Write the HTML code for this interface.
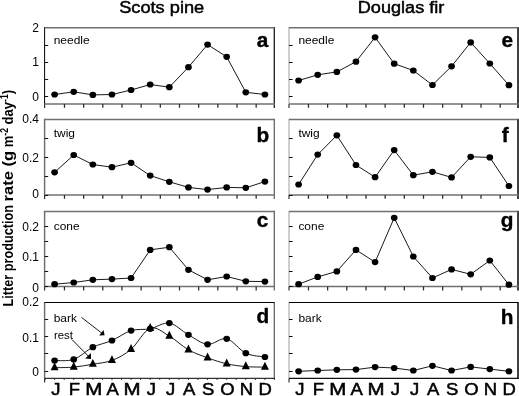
<!DOCTYPE html><html><head><meta charset="utf-8"><style>html,body{margin:0;padding:0;background:#fff;width:519px;height:396px;overflow:hidden}svg{display:block;filter:grayscale(1) blur(0.3px)}text{font-family:"Liberation Sans", sans-serif}</style></head><body>
<svg width="519" height="396" viewBox="0 0 519 396">
<rect width="519" height="396" fill="#fff"/>
<text x="119.2" y="12.6" font-size="15.8" stroke="#000" stroke-width="0.45" textLength="85" lengthAdjust="spacingAndGlyphs" fill="#000">Scots pine</text>
<text x="357.8" y="12.6" font-size="15.8" stroke="#000" stroke-width="0.45" textLength="86.5" lengthAdjust="spacingAndGlyphs" fill="#000">Douglas fir</text>
<text transform="translate(12.8,306.40) rotate(-90)" font-size="15.2" font-weight="bold" textLength="101.40" lengthAdjust="spacingAndGlyphs" fill="#000">Litter production</text>
<text transform="translate(12.8,201.40) rotate(-90)" font-size="15.2" font-weight="bold" textLength="50.60" lengthAdjust="spacingAndGlyphs" fill="#000">rate (g</text>
<text transform="translate(12.8,147.20) rotate(-90)" font-size="15.2" font-weight="bold" textLength="57.20" lengthAdjust="spacingAndGlyphs" fill="#000">m<tspan dy="-5" font-size="10">-2</tspan><tspan dy="5"> day</tspan><tspan dy="-5" font-size="10">-1</tspan><tspan dy="5">)</tspan></text>
<line x1="44.60" y1="26.95" x2="44.60" y2="104.00" stroke="#000" stroke-width="1.00"/>
<line x1="44.60" y1="104.00" x2="44.60" y2="108.00" stroke="#333" stroke-width="1.20"/>
<line x1="274.30" y1="26.95" x2="274.30" y2="108.00" stroke="#2a2a2a" stroke-width="1.40"/>
<line x1="44.60" y1="27.70" x2="274.30" y2="27.70" stroke="#707070" stroke-width="1.50"/>
<line x1="44.60" y1="104.00" x2="275.00" y2="104.00" stroke="#707070" stroke-width="1.50"/>
<line x1="44.60" y1="45.50" x2="48.20" y2="45.50" stroke="#111" stroke-width="1"/>
<line x1="44.60" y1="62.50" x2="48.20" y2="62.50" stroke="#111" stroke-width="1"/>
<line x1="44.60" y1="79.50" x2="48.20" y2="79.50" stroke="#111" stroke-width="1"/>
<line x1="44.60" y1="96.50" x2="48.20" y2="96.50" stroke="#111" stroke-width="1"/>
<line x1="64.47" y1="104.00" x2="64.47" y2="107.80" stroke="#2a2a2a" stroke-width="1.25"/>
<line x1="83.64" y1="104.00" x2="83.64" y2="107.80" stroke="#2a2a2a" stroke-width="1.25"/>
<line x1="102.81" y1="104.00" x2="102.81" y2="107.80" stroke="#2a2a2a" stroke-width="1.25"/>
<line x1="121.98" y1="104.00" x2="121.98" y2="107.80" stroke="#2a2a2a" stroke-width="1.25"/>
<line x1="141.15" y1="104.00" x2="141.15" y2="107.80" stroke="#2a2a2a" stroke-width="1.25"/>
<line x1="160.32" y1="104.00" x2="160.32" y2="107.80" stroke="#2a2a2a" stroke-width="1.25"/>
<line x1="179.49" y1="104.00" x2="179.49" y2="107.80" stroke="#2a2a2a" stroke-width="1.25"/>
<line x1="198.66" y1="104.00" x2="198.66" y2="107.80" stroke="#2a2a2a" stroke-width="1.25"/>
<line x1="217.83" y1="104.00" x2="217.83" y2="107.80" stroke="#2a2a2a" stroke-width="1.25"/>
<line x1="237.00" y1="104.00" x2="237.00" y2="107.80" stroke="#2a2a2a" stroke-width="1.25"/>
<line x1="256.17" y1="104.00" x2="256.17" y2="107.80" stroke="#2a2a2a" stroke-width="1.25"/>
<text x="38.9" y="28.30" font-size="12" text-anchor="end" dominant-baseline="central" fill="#000">2</text>
<text x="38.9" y="62.40" font-size="12" text-anchor="end" dominant-baseline="central" fill="#000">1</text>
<text x="38.9" y="96.70" font-size="12" text-anchor="end" dominant-baseline="central" fill="#000">0</text>
<text transform="translate(268.30,46.80) scale(1.05,1)" font-size="19.8" font-weight="bold" stroke="#000" stroke-width="0.35" text-anchor="end" fill="#000">a</text>
<text transform="translate(53.70,44.40) scale(1.04,1)" font-size="11.5" fill="#000">needle</text>
<polyline points="54.60,94.50 73.72,91.80 92.84,94.90 111.96,94.50 131.08,90.00 150.20,84.50 169.32,87.20 188.44,67.20 207.56,44.60 226.68,56.80 245.80,92.30 264.92,94.50" fill="none" stroke="#000" stroke-width="0.90"/>
<ellipse cx="54.60" cy="94.50" rx="3.35" ry="3.1" fill="#000"/>
<ellipse cx="73.72" cy="91.80" rx="3.35" ry="3.1" fill="#000"/>
<ellipse cx="92.84" cy="94.90" rx="3.35" ry="3.1" fill="#000"/>
<ellipse cx="111.96" cy="94.50" rx="3.35" ry="3.1" fill="#000"/>
<ellipse cx="131.08" cy="90.00" rx="3.35" ry="3.1" fill="#000"/>
<ellipse cx="150.20" cy="84.50" rx="3.35" ry="3.1" fill="#000"/>
<ellipse cx="169.32" cy="87.20" rx="3.35" ry="3.1" fill="#000"/>
<ellipse cx="188.44" cy="67.20" rx="3.35" ry="3.1" fill="#000"/>
<ellipse cx="207.56" cy="44.60" rx="3.35" ry="3.1" fill="#000"/>
<ellipse cx="226.68" cy="56.80" rx="3.35" ry="3.1" fill="#000"/>
<ellipse cx="245.80" cy="92.30" rx="3.35" ry="3.1" fill="#000"/>
<ellipse cx="264.92" cy="94.50" rx="3.35" ry="3.1" fill="#000"/>
<line x1="44.60" y1="118.75" x2="44.60" y2="195.00" stroke="#707070" stroke-width="1.50"/>
<line x1="44.60" y1="195.00" x2="44.60" y2="199.00" stroke="#333" stroke-width="1.20"/>
<line x1="274.30" y1="118.75" x2="274.30" y2="199.00" stroke="#666" stroke-width="1.30"/>
<line x1="44.60" y1="119.50" x2="274.30" y2="119.50" stroke="#707070" stroke-width="1.50"/>
<line x1="44.60" y1="195.00" x2="274.95" y2="195.00" stroke="#707070" stroke-width="1.50"/>
<line x1="44.60" y1="138.50" x2="48.20" y2="138.50" stroke="#111" stroke-width="1"/>
<line x1="44.60" y1="157.50" x2="48.20" y2="157.50" stroke="#111" stroke-width="1"/>
<line x1="44.60" y1="176.50" x2="48.20" y2="176.50" stroke="#111" stroke-width="1"/>
<line x1="44.60" y1="195.50" x2="48.20" y2="195.50" stroke="#111" stroke-width="1"/>
<line x1="64.47" y1="195.00" x2="64.47" y2="198.80" stroke="#2a2a2a" stroke-width="1.25"/>
<line x1="83.64" y1="195.00" x2="83.64" y2="198.80" stroke="#2a2a2a" stroke-width="1.25"/>
<line x1="102.81" y1="195.00" x2="102.81" y2="198.80" stroke="#2a2a2a" stroke-width="1.25"/>
<line x1="121.98" y1="195.00" x2="121.98" y2="198.80" stroke="#2a2a2a" stroke-width="1.25"/>
<line x1="141.15" y1="195.00" x2="141.15" y2="198.80" stroke="#2a2a2a" stroke-width="1.25"/>
<line x1="160.32" y1="195.00" x2="160.32" y2="198.80" stroke="#2a2a2a" stroke-width="1.25"/>
<line x1="179.49" y1="195.00" x2="179.49" y2="198.80" stroke="#2a2a2a" stroke-width="1.25"/>
<line x1="198.66" y1="195.00" x2="198.66" y2="198.80" stroke="#2a2a2a" stroke-width="1.25"/>
<line x1="217.83" y1="195.00" x2="217.83" y2="198.80" stroke="#2a2a2a" stroke-width="1.25"/>
<line x1="237.00" y1="195.00" x2="237.00" y2="198.80" stroke="#2a2a2a" stroke-width="1.25"/>
<line x1="256.17" y1="195.00" x2="256.17" y2="198.80" stroke="#2a2a2a" stroke-width="1.25"/>
<text x="38.9" y="119.40" font-size="12" text-anchor="end" dominant-baseline="central" fill="#000">0.4</text>
<text x="38.9" y="158.10" font-size="12" text-anchor="end" dominant-baseline="central" fill="#000">0.2</text>
<text x="38.9" y="194.40" font-size="12" text-anchor="end" dominant-baseline="central" fill="#000">0</text>
<text transform="translate(269.30,142.05) scale(1.05,1)" font-size="19.8" font-weight="bold" stroke="#000" stroke-width="0.35" text-anchor="end" fill="#000">b</text>
<text transform="translate(53.70,136.80) scale(1.04,1)" font-size="11.5" fill="#000">twig</text>
<polyline points="54.60,172.30 73.72,155.00 92.84,164.50 111.96,167.20 131.08,162.80 150.20,175.60 169.32,181.80 188.44,187.40 207.56,189.60 226.68,187.40 245.80,187.80 264.92,181.60" fill="none" stroke="#000" stroke-width="0.90"/>
<ellipse cx="54.60" cy="172.30" rx="3.35" ry="3.1" fill="#000"/>
<ellipse cx="73.72" cy="155.00" rx="3.35" ry="3.1" fill="#000"/>
<ellipse cx="92.84" cy="164.50" rx="3.35" ry="3.1" fill="#000"/>
<ellipse cx="111.96" cy="167.20" rx="3.35" ry="3.1" fill="#000"/>
<ellipse cx="131.08" cy="162.80" rx="3.35" ry="3.1" fill="#000"/>
<ellipse cx="150.20" cy="175.60" rx="3.35" ry="3.1" fill="#000"/>
<ellipse cx="169.32" cy="181.80" rx="3.35" ry="3.1" fill="#000"/>
<ellipse cx="188.44" cy="187.40" rx="3.35" ry="3.1" fill="#000"/>
<ellipse cx="207.56" cy="189.60" rx="3.35" ry="3.1" fill="#000"/>
<ellipse cx="226.68" cy="187.40" rx="3.35" ry="3.1" fill="#000"/>
<ellipse cx="245.80" cy="187.80" rx="3.35" ry="3.1" fill="#000"/>
<ellipse cx="264.92" cy="181.60" rx="3.35" ry="3.1" fill="#000"/>
<line x1="44.60" y1="210.85" x2="44.60" y2="286.60" stroke="#707070" stroke-width="1.50"/>
<line x1="44.60" y1="286.60" x2="44.60" y2="290.60" stroke="#333" stroke-width="1.20"/>
<line x1="274.30" y1="210.85" x2="274.30" y2="290.60" stroke="#666" stroke-width="1.30"/>
<line x1="44.60" y1="211.60" x2="274.30" y2="211.60" stroke="#707070" stroke-width="1.50"/>
<line x1="44.60" y1="286.60" x2="274.95" y2="286.60" stroke="#707070" stroke-width="1.50"/>
<line x1="44.60" y1="226.50" x2="48.20" y2="226.50" stroke="#111" stroke-width="1"/>
<line x1="44.60" y1="241.50" x2="48.20" y2="241.50" stroke="#111" stroke-width="1"/>
<line x1="44.60" y1="256.50" x2="48.20" y2="256.50" stroke="#111" stroke-width="1"/>
<line x1="44.60" y1="271.50" x2="48.20" y2="271.50" stroke="#111" stroke-width="1"/>
<line x1="44.60" y1="286.50" x2="48.20" y2="286.50" stroke="#111" stroke-width="1"/>
<line x1="64.47" y1="286.60" x2="64.47" y2="290.40" stroke="#2a2a2a" stroke-width="1.25"/>
<line x1="83.64" y1="286.60" x2="83.64" y2="290.40" stroke="#2a2a2a" stroke-width="1.25"/>
<line x1="102.81" y1="286.60" x2="102.81" y2="290.40" stroke="#2a2a2a" stroke-width="1.25"/>
<line x1="121.98" y1="286.60" x2="121.98" y2="290.40" stroke="#2a2a2a" stroke-width="1.25"/>
<line x1="141.15" y1="286.60" x2="141.15" y2="290.40" stroke="#2a2a2a" stroke-width="1.25"/>
<line x1="160.32" y1="286.60" x2="160.32" y2="290.40" stroke="#2a2a2a" stroke-width="1.25"/>
<line x1="179.49" y1="286.60" x2="179.49" y2="290.40" stroke="#2a2a2a" stroke-width="1.25"/>
<line x1="198.66" y1="286.60" x2="198.66" y2="290.40" stroke="#2a2a2a" stroke-width="1.25"/>
<line x1="217.83" y1="286.60" x2="217.83" y2="290.40" stroke="#2a2a2a" stroke-width="1.25"/>
<line x1="237.00" y1="286.60" x2="237.00" y2="290.40" stroke="#2a2a2a" stroke-width="1.25"/>
<line x1="256.17" y1="286.60" x2="256.17" y2="290.40" stroke="#2a2a2a" stroke-width="1.25"/>
<text x="38.9" y="226.90" font-size="12" text-anchor="end" dominant-baseline="central" fill="#000">0.2</text>
<text x="38.9" y="256.50" font-size="12" text-anchor="end" dominant-baseline="central" fill="#000">0.1</text>
<text x="38.9" y="287.50" font-size="12" text-anchor="end" dominant-baseline="central" fill="#000">0</text>
<text transform="translate(268.30,227.05) scale(1.05,1)" font-size="19.8" font-weight="bold" stroke="#000" stroke-width="0.35" text-anchor="end" fill="#000">c</text>
<text transform="translate(53.70,229.80) scale(1.04,1)" font-size="11.5" fill="#000">cone</text>
<polyline points="54.60,284.20 73.72,282.50 92.84,279.80 111.96,279.10 131.08,278.00 150.20,249.90 169.32,247.20 188.44,269.80 207.56,279.80 226.68,276.50 245.80,281.30 264.92,281.60" fill="none" stroke="#000" stroke-width="0.90"/>
<ellipse cx="54.60" cy="284.20" rx="3.35" ry="3.1" fill="#000"/>
<ellipse cx="73.72" cy="282.50" rx="3.35" ry="3.1" fill="#000"/>
<ellipse cx="92.84" cy="279.80" rx="3.35" ry="3.1" fill="#000"/>
<ellipse cx="111.96" cy="279.10" rx="3.35" ry="3.1" fill="#000"/>
<ellipse cx="131.08" cy="278.00" rx="3.35" ry="3.1" fill="#000"/>
<ellipse cx="150.20" cy="249.90" rx="3.35" ry="3.1" fill="#000"/>
<ellipse cx="169.32" cy="247.20" rx="3.35" ry="3.1" fill="#000"/>
<ellipse cx="188.44" cy="269.80" rx="3.35" ry="3.1" fill="#000"/>
<ellipse cx="207.56" cy="279.80" rx="3.35" ry="3.1" fill="#000"/>
<ellipse cx="226.68" cy="276.50" rx="3.35" ry="3.1" fill="#000"/>
<ellipse cx="245.80" cy="281.30" rx="3.35" ry="3.1" fill="#000"/>
<ellipse cx="264.92" cy="281.60" rx="3.35" ry="3.1" fill="#000"/>
<line x1="44.60" y1="302.00" x2="44.60" y2="378.40" stroke="#707070" stroke-width="1.50"/>
<line x1="44.60" y1="378.40" x2="44.60" y2="382.40" stroke="#333" stroke-width="1.20"/>
<line x1="274.30" y1="302.00" x2="274.30" y2="379.00" stroke="#666" stroke-width="1.30"/>
<line x1="44.60" y1="302.50" x2="274.30" y2="302.50" stroke="#000" stroke-width="1.00"/>
<line x1="44.60" y1="378.40" x2="274.95" y2="378.40" stroke="#333" stroke-width="1.20"/>
<line x1="44.60" y1="319.50" x2="48.20" y2="319.50" stroke="#111" stroke-width="1"/>
<line x1="44.60" y1="336.50" x2="48.20" y2="336.50" stroke="#111" stroke-width="1"/>
<line x1="44.60" y1="353.50" x2="48.20" y2="353.50" stroke="#111" stroke-width="1"/>
<line x1="44.60" y1="371.50" x2="48.20" y2="371.50" stroke="#111" stroke-width="1"/>
<line x1="45.04" y1="378.40" x2="45.04" y2="379.90" stroke="#222" stroke-width="1"/>
<line x1="54.60" y1="378.40" x2="54.60" y2="379.90" stroke="#222" stroke-width="1"/>
<line x1="64.16" y1="378.40" x2="64.16" y2="379.90" stroke="#222" stroke-width="1"/>
<line x1="73.72" y1="378.40" x2="73.72" y2="379.90" stroke="#222" stroke-width="1"/>
<line x1="83.28" y1="378.40" x2="83.28" y2="379.90" stroke="#222" stroke-width="1"/>
<line x1="92.84" y1="378.40" x2="92.84" y2="379.90" stroke="#222" stroke-width="1"/>
<line x1="102.40" y1="378.40" x2="102.40" y2="379.90" stroke="#222" stroke-width="1"/>
<line x1="111.96" y1="378.40" x2="111.96" y2="379.90" stroke="#222" stroke-width="1"/>
<line x1="121.52" y1="378.40" x2="121.52" y2="379.90" stroke="#222" stroke-width="1"/>
<line x1="131.08" y1="378.40" x2="131.08" y2="379.90" stroke="#222" stroke-width="1"/>
<line x1="140.64" y1="378.40" x2="140.64" y2="379.90" stroke="#222" stroke-width="1"/>
<line x1="150.20" y1="378.40" x2="150.20" y2="379.90" stroke="#222" stroke-width="1"/>
<line x1="159.76" y1="378.40" x2="159.76" y2="379.90" stroke="#222" stroke-width="1"/>
<line x1="169.32" y1="378.40" x2="169.32" y2="379.90" stroke="#222" stroke-width="1"/>
<line x1="178.88" y1="378.40" x2="178.88" y2="379.90" stroke="#222" stroke-width="1"/>
<line x1="188.44" y1="378.40" x2="188.44" y2="379.90" stroke="#222" stroke-width="1"/>
<line x1="198.00" y1="378.40" x2="198.00" y2="379.90" stroke="#222" stroke-width="1"/>
<line x1="207.56" y1="378.40" x2="207.56" y2="379.90" stroke="#222" stroke-width="1"/>
<line x1="217.12" y1="378.40" x2="217.12" y2="379.90" stroke="#222" stroke-width="1"/>
<line x1="226.68" y1="378.40" x2="226.68" y2="379.90" stroke="#222" stroke-width="1"/>
<line x1="236.24" y1="378.40" x2="236.24" y2="379.90" stroke="#222" stroke-width="1"/>
<line x1="245.80" y1="378.40" x2="245.80" y2="379.90" stroke="#222" stroke-width="1"/>
<line x1="255.36" y1="378.40" x2="255.36" y2="379.90" stroke="#222" stroke-width="1"/>
<line x1="264.92" y1="378.40" x2="264.92" y2="379.90" stroke="#222" stroke-width="1"/>
<line x1="274.48" y1="378.40" x2="274.48" y2="379.90" stroke="#222" stroke-width="1"/>
<text x="38.9" y="302.30" font-size="12" text-anchor="end" dominant-baseline="central" fill="#000">0.2</text>
<text x="38.9" y="337.60" font-size="12" text-anchor="end" dominant-baseline="central" fill="#000">0.1</text>
<text x="38.9" y="371.70" font-size="12" text-anchor="end" dominant-baseline="central" fill="#000">0</text>
<text transform="translate(269.30,322.80) scale(1.05,1)" font-size="19.8" font-weight="bold" stroke="#000" stroke-width="0.35" text-anchor="end" fill="#000">d</text>
<text transform="translate(53.70,321.80) scale(1.04,1)" font-size="11.5" fill="#000">bark</text>
<path d="M54.60,360.50 C57.79,360.32 67.35,361.62 73.72,359.40 C80.09,357.18 86.47,350.35 92.84,347.20 C99.21,344.05 105.59,343.27 111.96,340.50 C118.33,337.73 124.71,332.55 131.08,330.60 C137.45,328.65 143.83,330.05 150.20,328.80 C156.57,327.55 162.95,322.10 169.32,323.10 C175.69,324.10 182.07,331.27 188.44,334.80 C194.81,338.33 201.19,343.63 207.56,344.30 C213.93,344.97 220.31,337.32 226.68,338.80 C233.05,340.28 239.43,350.17 245.80,353.20 C252.17,356.23 261.73,356.37 264.92,357.00" fill="none" stroke="#000" stroke-width="0.90"/>
<path d="M54.60,367.70 C57.79,367.60 67.35,367.68 73.72,367.10 C80.09,366.52 86.47,365.32 92.84,364.20 C99.21,363.08 105.59,362.88 111.96,360.40 C118.33,357.92 124.71,354.65 131.08,349.30 C137.45,343.95 143.83,330.50 150.20,328.30 C156.57,326.10 162.95,332.52 169.32,336.10 C175.69,339.68 182.07,346.18 188.44,349.80 C194.81,353.42 201.19,355.47 207.56,357.80 C213.93,360.13 220.31,362.33 226.68,363.80 C233.05,365.27 239.43,366.05 245.80,366.60 C252.17,367.15 261.73,367.02 264.92,367.10" fill="none" stroke="#000" stroke-width="0.90"/>
<ellipse cx="54.60" cy="360.50" rx="3.35" ry="3.1" fill="#000"/>
<ellipse cx="73.72" cy="359.40" rx="3.35" ry="3.1" fill="#000"/>
<ellipse cx="92.84" cy="347.20" rx="3.35" ry="3.1" fill="#000"/>
<ellipse cx="111.96" cy="340.50" rx="3.35" ry="3.1" fill="#000"/>
<ellipse cx="131.08" cy="330.60" rx="3.35" ry="3.1" fill="#000"/>
<ellipse cx="150.20" cy="328.80" rx="3.35" ry="3.1" fill="#000"/>
<ellipse cx="169.32" cy="323.10" rx="3.35" ry="3.1" fill="#000"/>
<ellipse cx="188.44" cy="334.80" rx="3.35" ry="3.1" fill="#000"/>
<ellipse cx="207.56" cy="344.30" rx="3.35" ry="3.1" fill="#000"/>
<ellipse cx="226.68" cy="338.80" rx="3.35" ry="3.1" fill="#000"/>
<ellipse cx="245.80" cy="353.20" rx="3.35" ry="3.1" fill="#000"/>
<ellipse cx="264.92" cy="357.00" rx="3.35" ry="3.1" fill="#000"/>
<polygon points="54.60,362.43 50.60,370.33 58.60,370.33" fill="#000"/>
<polygon points="73.72,361.83 69.72,369.73 77.72,369.73" fill="#000"/>
<polygon points="92.84,358.93 88.84,366.83 96.84,366.83" fill="#000"/>
<polygon points="111.96,355.13 107.96,363.03 115.96,363.03" fill="#000"/>
<polygon points="131.08,344.03 127.08,351.93 135.08,351.93" fill="#000"/>
<polygon points="150.20,323.03 146.20,330.93 154.20,330.93" fill="#000"/>
<polygon points="169.32,330.83 165.32,338.73 173.32,338.73" fill="#000"/>
<polygon points="188.44,344.53 184.44,352.43 192.44,352.43" fill="#000"/>
<polygon points="207.56,352.53 203.56,360.43 211.56,360.43" fill="#000"/>
<polygon points="226.68,358.53 222.68,366.43 230.68,366.43" fill="#000"/>
<polygon points="245.80,361.33 241.80,369.23 249.80,369.23" fill="#000"/>
<polygon points="264.92,361.83 260.92,369.73 268.92,369.73" fill="#000"/>
<line x1="289.00" y1="26.95" x2="289.00" y2="104.00" stroke="#a8a8a8" stroke-width="1.10"/>
<line x1="289.00" y1="104.00" x2="289.00" y2="108.00" stroke="#333" stroke-width="1.20"/>
<line x1="518.00" y1="26.95" x2="518.00" y2="108.00" stroke="#000" stroke-width="1.50"/>
<line x1="289.00" y1="27.70" x2="518.00" y2="27.70" stroke="#707070" stroke-width="1.50"/>
<line x1="289.00" y1="104.00" x2="518.75" y2="104.00" stroke="#707070" stroke-width="1.50"/>
<line x1="289.00" y1="45.50" x2="292.60" y2="45.50" stroke="#111" stroke-width="1"/>
<line x1="289.00" y1="62.50" x2="292.60" y2="62.50" stroke="#111" stroke-width="1"/>
<line x1="289.00" y1="79.50" x2="292.60" y2="79.50" stroke="#111" stroke-width="1"/>
<line x1="289.00" y1="96.50" x2="292.60" y2="96.50" stroke="#111" stroke-width="1"/>
<line x1="308.47" y1="104.00" x2="308.47" y2="107.80" stroke="#2a2a2a" stroke-width="1.25"/>
<line x1="327.64" y1="104.00" x2="327.64" y2="107.80" stroke="#2a2a2a" stroke-width="1.25"/>
<line x1="346.81" y1="104.00" x2="346.81" y2="107.80" stroke="#2a2a2a" stroke-width="1.25"/>
<line x1="365.98" y1="104.00" x2="365.98" y2="107.80" stroke="#2a2a2a" stroke-width="1.25"/>
<line x1="385.15" y1="104.00" x2="385.15" y2="107.80" stroke="#2a2a2a" stroke-width="1.25"/>
<line x1="404.32" y1="104.00" x2="404.32" y2="107.80" stroke="#2a2a2a" stroke-width="1.25"/>
<line x1="423.49" y1="104.00" x2="423.49" y2="107.80" stroke="#2a2a2a" stroke-width="1.25"/>
<line x1="442.66" y1="104.00" x2="442.66" y2="107.80" stroke="#2a2a2a" stroke-width="1.25"/>
<line x1="461.83" y1="104.00" x2="461.83" y2="107.80" stroke="#2a2a2a" stroke-width="1.25"/>
<line x1="481.00" y1="104.00" x2="481.00" y2="107.80" stroke="#2a2a2a" stroke-width="1.25"/>
<line x1="500.17" y1="104.00" x2="500.17" y2="107.80" stroke="#2a2a2a" stroke-width="1.25"/>
<text transform="translate(513.10,47.20) scale(1.05,1)" font-size="19.8" font-weight="bold" stroke="#000" stroke-width="0.35" text-anchor="end" fill="#000">e</text>
<text transform="translate(298.40,44.40) scale(1.04,1)" font-size="11.5" fill="#000">needle</text>
<polyline points="298.60,80.50 317.72,74.80 336.84,71.90 355.96,61.70 375.08,37.30 394.20,63.70 413.32,70.50 432.44,85.00 451.56,66.30 470.68,42.40 489.80,63.50 508.92,85.20" fill="none" stroke="#000" stroke-width="0.90"/>
<ellipse cx="298.60" cy="80.50" rx="3.35" ry="3.1" fill="#000"/>
<ellipse cx="317.72" cy="74.80" rx="3.35" ry="3.1" fill="#000"/>
<ellipse cx="336.84" cy="71.90" rx="3.35" ry="3.1" fill="#000"/>
<ellipse cx="355.96" cy="61.70" rx="3.35" ry="3.1" fill="#000"/>
<ellipse cx="375.08" cy="37.30" rx="3.35" ry="3.1" fill="#000"/>
<ellipse cx="394.20" cy="63.70" rx="3.35" ry="3.1" fill="#000"/>
<ellipse cx="413.32" cy="70.50" rx="3.35" ry="3.1" fill="#000"/>
<ellipse cx="432.44" cy="85.00" rx="3.35" ry="3.1" fill="#000"/>
<ellipse cx="451.56" cy="66.30" rx="3.35" ry="3.1" fill="#000"/>
<ellipse cx="470.68" cy="42.40" rx="3.35" ry="3.1" fill="#000"/>
<ellipse cx="489.80" cy="63.50" rx="3.35" ry="3.1" fill="#000"/>
<ellipse cx="508.92" cy="85.20" rx="3.35" ry="3.1" fill="#000"/>
<line x1="289.00" y1="118.75" x2="289.00" y2="195.00" stroke="#a8a8a8" stroke-width="1.10"/>
<line x1="289.00" y1="195.00" x2="289.00" y2="199.00" stroke="#333" stroke-width="1.20"/>
<line x1="518.00" y1="118.75" x2="518.00" y2="199.00" stroke="#000" stroke-width="1.50"/>
<line x1="289.00" y1="119.50" x2="518.00" y2="119.50" stroke="#707070" stroke-width="1.50"/>
<line x1="289.00" y1="195.00" x2="518.75" y2="195.00" stroke="#707070" stroke-width="1.50"/>
<line x1="289.00" y1="138.50" x2="292.60" y2="138.50" stroke="#111" stroke-width="1"/>
<line x1="289.00" y1="157.50" x2="292.60" y2="157.50" stroke="#111" stroke-width="1"/>
<line x1="289.00" y1="176.50" x2="292.60" y2="176.50" stroke="#111" stroke-width="1"/>
<line x1="289.00" y1="195.50" x2="292.60" y2="195.50" stroke="#111" stroke-width="1"/>
<line x1="308.47" y1="195.00" x2="308.47" y2="198.80" stroke="#2a2a2a" stroke-width="1.25"/>
<line x1="327.64" y1="195.00" x2="327.64" y2="198.80" stroke="#2a2a2a" stroke-width="1.25"/>
<line x1="346.81" y1="195.00" x2="346.81" y2="198.80" stroke="#2a2a2a" stroke-width="1.25"/>
<line x1="365.98" y1="195.00" x2="365.98" y2="198.80" stroke="#2a2a2a" stroke-width="1.25"/>
<line x1="385.15" y1="195.00" x2="385.15" y2="198.80" stroke="#2a2a2a" stroke-width="1.25"/>
<line x1="404.32" y1="195.00" x2="404.32" y2="198.80" stroke="#2a2a2a" stroke-width="1.25"/>
<line x1="423.49" y1="195.00" x2="423.49" y2="198.80" stroke="#2a2a2a" stroke-width="1.25"/>
<line x1="442.66" y1="195.00" x2="442.66" y2="198.80" stroke="#2a2a2a" stroke-width="1.25"/>
<line x1="461.83" y1="195.00" x2="461.83" y2="198.80" stroke="#2a2a2a" stroke-width="1.25"/>
<line x1="481.00" y1="195.00" x2="481.00" y2="198.80" stroke="#2a2a2a" stroke-width="1.25"/>
<line x1="500.17" y1="195.00" x2="500.17" y2="198.80" stroke="#2a2a2a" stroke-width="1.25"/>
<text transform="translate(508.60,142.35) scale(1.05,1)" font-size="19.8" font-weight="bold" stroke="#000" stroke-width="0.35" text-anchor="end" fill="#000">f</text>
<text transform="translate(298.40,136.80) scale(1.04,1)" font-size="11.5" fill="#000">twig</text>
<polyline points="298.60,184.50 317.72,154.60 336.84,135.30 355.96,165.00 375.08,177.20 394.20,150.10 413.32,175.20 432.44,171.80 451.56,177.40 470.68,156.80 489.80,157.40 508.92,186.00" fill="none" stroke="#000" stroke-width="0.90"/>
<ellipse cx="298.60" cy="184.50" rx="3.35" ry="3.1" fill="#000"/>
<ellipse cx="317.72" cy="154.60" rx="3.35" ry="3.1" fill="#000"/>
<ellipse cx="336.84" cy="135.30" rx="3.35" ry="3.1" fill="#000"/>
<ellipse cx="355.96" cy="165.00" rx="3.35" ry="3.1" fill="#000"/>
<ellipse cx="375.08" cy="177.20" rx="3.35" ry="3.1" fill="#000"/>
<ellipse cx="394.20" cy="150.10" rx="3.35" ry="3.1" fill="#000"/>
<ellipse cx="413.32" cy="175.20" rx="3.35" ry="3.1" fill="#000"/>
<ellipse cx="432.44" cy="171.80" rx="3.35" ry="3.1" fill="#000"/>
<ellipse cx="451.56" cy="177.40" rx="3.35" ry="3.1" fill="#000"/>
<ellipse cx="470.68" cy="156.80" rx="3.35" ry="3.1" fill="#000"/>
<ellipse cx="489.80" cy="157.40" rx="3.35" ry="3.1" fill="#000"/>
<ellipse cx="508.92" cy="186.00" rx="3.35" ry="3.1" fill="#000"/>
<line x1="289.00" y1="210.85" x2="289.00" y2="286.60" stroke="#a8a8a8" stroke-width="1.10"/>
<line x1="289.00" y1="286.60" x2="289.00" y2="290.60" stroke="#333" stroke-width="1.20"/>
<line x1="518.00" y1="210.85" x2="518.00" y2="290.60" stroke="#000" stroke-width="1.50"/>
<line x1="289.00" y1="211.60" x2="518.00" y2="211.60" stroke="#707070" stroke-width="1.50"/>
<line x1="289.00" y1="286.60" x2="518.75" y2="286.60" stroke="#707070" stroke-width="1.50"/>
<line x1="289.00" y1="226.50" x2="292.60" y2="226.50" stroke="#111" stroke-width="1"/>
<line x1="289.00" y1="241.50" x2="292.60" y2="241.50" stroke="#111" stroke-width="1"/>
<line x1="289.00" y1="256.50" x2="292.60" y2="256.50" stroke="#111" stroke-width="1"/>
<line x1="289.00" y1="271.50" x2="292.60" y2="271.50" stroke="#111" stroke-width="1"/>
<line x1="289.00" y1="286.50" x2="292.60" y2="286.50" stroke="#111" stroke-width="1"/>
<line x1="308.47" y1="286.60" x2="308.47" y2="290.40" stroke="#2a2a2a" stroke-width="1.25"/>
<line x1="327.64" y1="286.60" x2="327.64" y2="290.40" stroke="#2a2a2a" stroke-width="1.25"/>
<line x1="346.81" y1="286.60" x2="346.81" y2="290.40" stroke="#2a2a2a" stroke-width="1.25"/>
<line x1="365.98" y1="286.60" x2="365.98" y2="290.40" stroke="#2a2a2a" stroke-width="1.25"/>
<line x1="385.15" y1="286.60" x2="385.15" y2="290.40" stroke="#2a2a2a" stroke-width="1.25"/>
<line x1="404.32" y1="286.60" x2="404.32" y2="290.40" stroke="#2a2a2a" stroke-width="1.25"/>
<line x1="423.49" y1="286.60" x2="423.49" y2="290.40" stroke="#2a2a2a" stroke-width="1.25"/>
<line x1="442.66" y1="286.60" x2="442.66" y2="290.40" stroke="#2a2a2a" stroke-width="1.25"/>
<line x1="461.83" y1="286.60" x2="461.83" y2="290.40" stroke="#2a2a2a" stroke-width="1.25"/>
<line x1="481.00" y1="286.60" x2="481.00" y2="290.40" stroke="#2a2a2a" stroke-width="1.25"/>
<line x1="500.17" y1="286.60" x2="500.17" y2="290.40" stroke="#2a2a2a" stroke-width="1.25"/>
<text transform="translate(513.50,227.40) scale(1.05,1)" font-size="19.8" font-weight="bold" stroke="#000" stroke-width="0.35" text-anchor="end" fill="#000">g</text>
<text transform="translate(298.40,229.80) scale(1.04,1)" font-size="11.5" fill="#000">cone</text>
<polyline points="298.60,284.20 317.72,276.90 336.84,271.40 355.96,249.90 375.08,262.10 394.20,217.80 413.32,256.50 432.44,278.00 451.56,269.40 470.68,274.30 489.80,260.50 508.92,284.70" fill="none" stroke="#000" stroke-width="0.90"/>
<ellipse cx="298.60" cy="284.20" rx="3.35" ry="3.1" fill="#000"/>
<ellipse cx="317.72" cy="276.90" rx="3.35" ry="3.1" fill="#000"/>
<ellipse cx="336.84" cy="271.40" rx="3.35" ry="3.1" fill="#000"/>
<ellipse cx="355.96" cy="249.90" rx="3.35" ry="3.1" fill="#000"/>
<ellipse cx="375.08" cy="262.10" rx="3.35" ry="3.1" fill="#000"/>
<ellipse cx="394.20" cy="217.80" rx="3.35" ry="3.1" fill="#000"/>
<ellipse cx="413.32" cy="256.50" rx="3.35" ry="3.1" fill="#000"/>
<ellipse cx="432.44" cy="278.00" rx="3.35" ry="3.1" fill="#000"/>
<ellipse cx="451.56" cy="269.40" rx="3.35" ry="3.1" fill="#000"/>
<ellipse cx="470.68" cy="274.30" rx="3.35" ry="3.1" fill="#000"/>
<ellipse cx="489.80" cy="260.50" rx="3.35" ry="3.1" fill="#000"/>
<ellipse cx="508.92" cy="284.70" rx="3.35" ry="3.1" fill="#000"/>
<line x1="289.00" y1="302.00" x2="289.00" y2="378.40" stroke="#a8a8a8" stroke-width="1.10"/>
<line x1="289.00" y1="378.40" x2="289.00" y2="382.40" stroke="#333" stroke-width="1.20"/>
<line x1="518.00" y1="302.00" x2="518.00" y2="379.00" stroke="#000" stroke-width="1.50"/>
<line x1="289.00" y1="302.50" x2="518.00" y2="302.50" stroke="#000" stroke-width="1.00"/>
<line x1="289.00" y1="378.40" x2="518.75" y2="378.40" stroke="#111" stroke-width="1.30"/>
<line x1="289.00" y1="319.50" x2="292.60" y2="319.50" stroke="#111" stroke-width="1"/>
<line x1="289.00" y1="336.50" x2="292.60" y2="336.50" stroke="#111" stroke-width="1"/>
<line x1="289.00" y1="353.50" x2="292.60" y2="353.50" stroke="#111" stroke-width="1"/>
<line x1="289.00" y1="371.50" x2="292.60" y2="371.50" stroke="#111" stroke-width="1"/>
<text transform="translate(513.50,323.50) scale(1.05,1)" font-size="19.8" font-weight="bold" stroke="#000" stroke-width="0.35" text-anchor="end" fill="#000">h</text>
<text transform="translate(298.40,321.80) scale(1.04,1)" font-size="11.5" fill="#000">bark</text>
<polyline points="298.60,371.30 317.72,370.50 336.84,369.80 355.96,369.60 375.08,367.10 394.20,368.00 413.32,370.50 432.44,365.80 451.56,370.50 470.68,366.90 489.80,369.10 508.92,371.30" fill="none" stroke="#000" stroke-width="0.90"/>
<ellipse cx="298.60" cy="371.30" rx="3.35" ry="3.1" fill="#000"/>
<ellipse cx="317.72" cy="370.50" rx="3.35" ry="3.1" fill="#000"/>
<ellipse cx="336.84" cy="369.80" rx="3.35" ry="3.1" fill="#000"/>
<ellipse cx="355.96" cy="369.60" rx="3.35" ry="3.1" fill="#000"/>
<ellipse cx="375.08" cy="367.10" rx="3.35" ry="3.1" fill="#000"/>
<ellipse cx="394.20" cy="368.00" rx="3.35" ry="3.1" fill="#000"/>
<ellipse cx="413.32" cy="370.50" rx="3.35" ry="3.1" fill="#000"/>
<ellipse cx="432.44" cy="365.80" rx="3.35" ry="3.1" fill="#000"/>
<ellipse cx="451.56" cy="370.50" rx="3.35" ry="3.1" fill="#000"/>
<ellipse cx="470.68" cy="366.90" rx="3.35" ry="3.1" fill="#000"/>
<ellipse cx="489.80" cy="369.10" rx="3.35" ry="3.1" fill="#000"/>
<ellipse cx="508.92" cy="371.30" rx="3.35" ry="3.1" fill="#000"/>
<text transform="translate(53.9,338.8) scale(0.99,1)" font-size="11.5" fill="#000">rest</text>
<line x1="81.40" y1="317.30" x2="101.99" y2="333.28" stroke="#000" stroke-width="0.9"/><polygon points="104.60,335.30 99.11,335.61 103.53,329.90" fill="#000"/>
<line x1="71.80" y1="339.40" x2="88.61" y2="356.38" stroke="#000" stroke-width="0.9"/><polygon points="91.10,358.90 85.21,358.56 90.82,353.01" fill="#000"/>
<text transform="translate(55.80,395.0) scale(1.10,1)" font-size="16.8" stroke="#000" stroke-width="0.5" text-anchor="middle" fill="#000">J</text>
<text transform="translate(74.42,395.0) scale(1.10,1)" font-size="16.8" stroke="#000" stroke-width="0.5" text-anchor="middle" fill="#000">F</text>
<text transform="translate(93.84,395.0) scale(1.22,1)" font-size="16.8" stroke="#000" stroke-width="0.5" text-anchor="middle" fill="#000">M</text>
<text transform="translate(112.66,395.0) scale(1.10,1)" font-size="16.8" stroke="#000" stroke-width="0.5" text-anchor="middle" fill="#000">A</text>
<text transform="translate(132.08,395.0) scale(1.22,1)" font-size="16.8" stroke="#000" stroke-width="0.5" text-anchor="middle" fill="#000">M</text>
<text transform="translate(151.40,395.0) scale(1.10,1)" font-size="16.8" stroke="#000" stroke-width="0.5" text-anchor="middle" fill="#000">J</text>
<text transform="translate(170.52,395.0) scale(1.10,1)" font-size="16.8" stroke="#000" stroke-width="0.5" text-anchor="middle" fill="#000">J</text>
<text transform="translate(189.14,395.0) scale(1.10,1)" font-size="16.8" stroke="#000" stroke-width="0.5" text-anchor="middle" fill="#000">A</text>
<text transform="translate(208.26,395.0) scale(1.10,1)" font-size="16.8" stroke="#000" stroke-width="0.5" text-anchor="middle" fill="#000">S</text>
<text transform="translate(227.38,395.0) scale(1.10,1)" font-size="16.8" stroke="#000" stroke-width="0.5" text-anchor="middle" fill="#000">O</text>
<text transform="translate(246.50,395.0) scale(1.10,1)" font-size="16.8" stroke="#000" stroke-width="0.5" text-anchor="middle" fill="#000">N</text>
<text transform="translate(265.12,395.0) scale(1.10,1)" font-size="16.8" stroke="#000" stroke-width="0.5" text-anchor="middle" fill="#000">D</text>
<text transform="translate(299.80,395.0) scale(1.10,1)" font-size="16.8" stroke="#000" stroke-width="0.5" text-anchor="middle" fill="#000">J</text>
<text transform="translate(318.42,395.0) scale(1.10,1)" font-size="16.8" stroke="#000" stroke-width="0.5" text-anchor="middle" fill="#000">F</text>
<text transform="translate(337.84,395.0) scale(1.22,1)" font-size="16.8" stroke="#000" stroke-width="0.5" text-anchor="middle" fill="#000">M</text>
<text transform="translate(356.66,395.0) scale(1.10,1)" font-size="16.8" stroke="#000" stroke-width="0.5" text-anchor="middle" fill="#000">A</text>
<text transform="translate(376.08,395.0) scale(1.22,1)" font-size="16.8" stroke="#000" stroke-width="0.5" text-anchor="middle" fill="#000">M</text>
<text transform="translate(395.40,395.0) scale(1.10,1)" font-size="16.8" stroke="#000" stroke-width="0.5" text-anchor="middle" fill="#000">J</text>
<text transform="translate(414.52,395.0) scale(1.10,1)" font-size="16.8" stroke="#000" stroke-width="0.5" text-anchor="middle" fill="#000">J</text>
<text transform="translate(433.14,395.0) scale(1.10,1)" font-size="16.8" stroke="#000" stroke-width="0.5" text-anchor="middle" fill="#000">A</text>
<text transform="translate(452.26,395.0) scale(1.10,1)" font-size="16.8" stroke="#000" stroke-width="0.5" text-anchor="middle" fill="#000">S</text>
<text transform="translate(471.38,395.0) scale(1.10,1)" font-size="16.8" stroke="#000" stroke-width="0.5" text-anchor="middle" fill="#000">O</text>
<text transform="translate(490.50,395.0) scale(1.10,1)" font-size="16.8" stroke="#000" stroke-width="0.5" text-anchor="middle" fill="#000">N</text>
<text transform="translate(509.12,395.0) scale(1.10,1)" font-size="16.8" stroke="#000" stroke-width="0.5" text-anchor="middle" fill="#000">D</text>
</svg></body></html>
